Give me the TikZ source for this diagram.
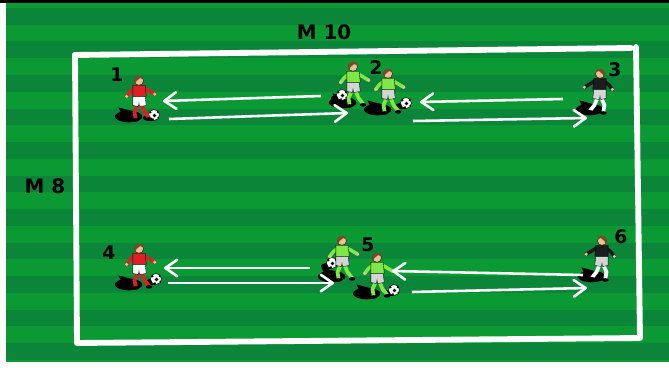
\documentclass[tikz,border=0pt]{standalone}
\usepackage{fontspec}
\setmainfont{DejaVu Sans}
\usetikzlibrary{arrows.meta}
\definecolor{fielddark}{RGB}{11,134,57}
\definecolor{fieldlight}{RGB}{10,153,50}
\definecolor{redshirt}{RGB}{222,32,38}
\definecolor{limeshirt}{RGB}{128,232,70}
\definecolor{keeper}{RGB}{28,28,28}
\definecolor{skin}{RGB}{240,190,150}
\definecolor{hair}{RGB}{125,72,40}
\definecolor{shortsgrey}{RGB}{212,212,212}
\tikzset{
	x=0.03cm,
	y=-0.03cm,
	>={Straight Barb[length=0.36cm,width=0.5cm,round]},
	fieldline/.style={
		white,
		line width=5pt,
		line join=round,
		line cap=round
	},
	pass/.style={
		white,
		->,
		line width=2.2pt
	},
	pics/shadowblob/.style={code={
		\fill[black] (-9,-3) ellipse [x radius=12, y radius=5];
		\fill[black] (-18,-11) -- (-7,-8) -- (-3,-1) -- (-14,-3) -- cycle;
	}},
	pics/ball/.style={code={
		\fill[black] (-4,3) ellipse [x radius=7, y radius=3];
		\filldraw[fill=white, draw=black, line width=0.4pt] (0,0) circle (5.5);
		\fill[black] (0.5,0.5) circle (1.8) (-3.6,-2.8) circle (1.2)
			(3.7,-3) circle (1.1) (-1,4.3) circle (1.1) (4.2,2.8) circle (1);
	}},
	pics/player/.style n args={3}{code={
		% legs and boots
		\draw[#3, line width=3.2pt] (-1,-14) -- (-4,-7) -- (-3,-1);
		\draw[#3, line width=3.2pt] (2,-14) -- (5,-7) -- (9,-2);
		\fill[black] (-3,0) ellipse [x radius=3, y radius=1.6];
		\fill[black] (9,-1) ellipse [x radius=3, y radius=1.6];
		\filldraw[fill=#2, draw=black, line width=0.3pt] (-5.5,-21) -- (5.5,-21) -- (6.5,-13)
			-- (0.5,-12) -- (0,-15) -- (-0.5,-12) -- (-5.5,-13) -- cycle;
		% arms
		\draw[#1, line width=3pt, line cap=round] (-3,-29) -- (-8,-25) -- (-11,-21);
		\draw[#1, line width=3pt, line cap=round] (4,-29) -- (9,-26) -- (14,-23);
		\fill[skin] (-11,-21) circle (1.5) (14,-23) circle (1.5);
		\filldraw[fill=#1, draw=black, line width=0.3pt] (-5.5,-31) -- (5.5,-31) -- (6.5,-21)
			-- (-5.5,-21) -- cycle;
		% head
		\filldraw[fill=skin, draw=black, line width=0.3pt] (0,-35) circle (4);
		\fill[hair] (-4.2,-34) .. controls (-5,-41) and (4,-41.5) .. (4.3,-36)
			-- (1,-37.5) -- (-2.5,-34.5) -- (-3.2,-31) -- cycle;
	}}
}

\begin{document}
\begin{tikzpicture}[
		num/.style={font=\bfseries\fontsize{16}{16}\selectfont, inner sep=0pt},
		dimlabel/.style={font=\bfseries\fontsize{17}{17}\selectfont, inner sep=0pt}
	]
	\useasboundingbox (0,0) rectangle (669,368);
	\fill[white] (0,0) rectangle (669,368);
	\fill[black] (0,0) rectangle (669,3);

	% striped grass
	\fill[fieldlight] (6,3) rectangle (669,362);
	\begin{scope}
		\clip (6,3) rectangle (669,362);
		\foreach \k in {0,...,10}
			\fill[fielddark] (6,{8+33.5*\k}) rectangle (669,{24.75+33.5*\k});
	\end{scope}

	\draw[fieldline] (75,55) -- (631,48);
	\draw[fieldline] (636,47) -- (640,338) -- (77,343) -- (75,55);

	\node[dimlabel] (top) at (324,32) {M 10};
	\node[dimlabel] (side) at (45,186) {M 8};

	% shadows
	\foreach \sx/\sy in {139/120, 353/106, 388/113, 600/113,
		139/288, 342/280, 377/297, 602/280}
		\pic[scale=1.15] at (\sx,\sy) {shadowblob};

	\pic (b1) at (154,115) {ball};
	\pic (b2) at (342,95) {ball};
	\pic (b3) at (406,103) {ball};
	\pic (b4) at (156,279) {ball};
	\pic (b5) at (332,263) {ball};
	\pic (b6) at (394,290) {ball};

	\pic[scale=1.12] (p1) at (139,120) {player={redshirt}{white}{redshirt}};
	\pic[scale=1.12] (p2) at (353,106) {player={limeshirt}{shortsgrey}{limeshirt}};
	\pic[scale=1.12] (p2b) at (388,113) {player={limeshirt}{shortsgrey}{limeshirt}};
	\pic[xscale=-1.12, yscale=1.12] (p3) at (600,113) {player={keeper}{shortsgrey}{white}};
	\pic[scale=1.12] (p4) at (139,288) {player={redshirt}{white}{redshirt}};
	\pic[scale=1.12] (p5) at (342,280) {player={limeshirt}{shortsgrey}{limeshirt}};
	\pic[scale=1.12] (p5b) at (377,297) {player={limeshirt}{shortsgrey}{limeshirt}};
	\pic[xscale=-1.12, yscale=1.12] (p6) at (602,280) {player={keeper}{shortsgrey}{white}};

	\node[num] (n1) at (117,75) {1};
	\node[num] (n2) at (376,68) {2};
	\node[num] (n3) at (615,70) {3};
	\node[num] (n4) at (109,253) {4};
	\node[num] (n5) at (368,245) {5};
	\node[num] (n6) at (621,237) {6};

	% pass lines
	\coordinate (s1) at (321,96);  \coordinate (e1) at (163,101);
	\coordinate (s2) at (169,119); \coordinate (e2) at (348,113);
	\coordinate (s3) at (563,99);  \coordinate (e3) at (420,102);
	\coordinate (s4) at (413,121); \coordinate (e4) at (587,118);
	\coordinate (s5) at (310,268); \coordinate (e5) at (164,268);
	\coordinate (s6) at (168,283); \coordinate (e6) at (334,283);
	\coordinate (s7) at (583,275); \coordinate (e7) at (392,271);
	\coordinate (s8) at (412,292); \coordinate (e8) at (587,288);
	\foreach \i in {1,...,8}
		\draw[pass] (s\i) -- (e\i);
\end{tikzpicture}
\end{document}
